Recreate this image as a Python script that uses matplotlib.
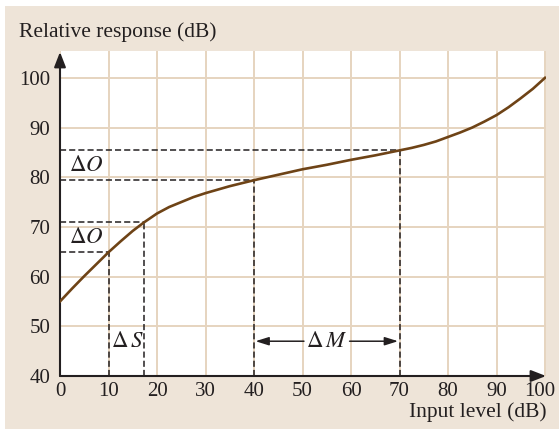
#!/usr/bin/env python3

import matplotlib.pyplot as plt
import matplotlib.transforms as mtransforms
from matplotlib.patches import Rectangle

# response curve: input level (dB) -> relative response (dB)
input_level = [0, 2.5, 5, 7.5, 10, 12.5, 15, 17.3, 20, 22.5, 25, 27.5, 30,
               35, 40, 45, 50, 55, 60, 65, 70, 72.5, 75, 77.5, 80, 82.5,
               85, 87.5, 90, 92.5, 95, 97.5, 100]
response = [55.0, 57.6, 60.1, 62.5, 64.9, 67.1, 69.2, 70.9, 72.7, 74.0,
            75.0, 76.0, 76.8, 78.2, 79.4, 80.5, 81.6, 82.5, 83.5, 84.4,
            85.4, 85.9, 86.5, 87.2, 88.1, 89.0, 90.0, 91.2, 92.5, 94.1,
            95.9, 97.8, 100.0]

# dashed guide points (input, output) on the curve
guide_in = [10, 17.3, 40, 70]
guide_out = [64.9, 70.9, 79.4, 85.4]

x_ticks = [0, 10, 20, 30, 40, 50, 60, 70, 80, 90, 100]
y_ticks = [40, 50, 60, 70, 80, 90, 100]

BEIGE = "#eee4d8"
GRID = "#e6d4bf"
CURVE = "#6e4316"
INK = "#231f20"


def main():
    plt.rcParams["font.family"] = ["Liberation Serif", "DejaVu Serif"]
    plt.rcParams["mathtext.fontset"] = "stix"

    dpi = 100
    fig = plt.figure(figsize=(559 / dpi, 430 / dpi), dpi=dpi)
    fig.patch.set_facecolor("white")
    fig.patches.append(Rectangle((5 / 559, 1 / 430), 554 / 559, 423 / 430,
                                 transform=fig.transFigure, facecolor=BEIGE,
                                 edgecolor="none", zorder=-10))

    ax = fig.add_axes([60 / 559, 54 / 430, 486 / 559, 325 / 430])
    ax.set_facecolor("white")
    ax.set_xlim(0, 100.2)
    ax.set_ylim(40, 105.4)

    for s in ax.spines.values():
        s.set_visible(False)

    ax.set_xticks(x_ticks)
    ax.set_yticks(y_ticks)
    ax.tick_params(length=0, labelsize=15, colors=INK)
    ax.tick_params(axis="x", pad=4)
    ax.tick_params(axis="y", pad=7)
    ax.grid(True, color=GRID, linewidth=1.4)
    ax.set_axisbelow(True)

    # nudge the last x label left so it stays inside the panel
    last = ax.get_xticklabels()[-1]
    last.set_transform(last.get_transform() + mtransforms.ScaledTranslation(
        -4 / 72, 0, fig.dpi_scale_trans))

    # axes with arrow heads
    arrow = dict(arrowstyle="-|>,head_length=0.9,head_width=0.35",
                 color=INK, lw=1.5, shrinkA=0, shrinkB=0)
    ax.annotate("", xy=(0, 105.2), xytext=(0, 40), arrowprops=arrow,
                annotation_clip=False)
    ax.annotate("", xy=(100.2, 40), xytext=(0, 40), arrowprops=arrow,
                annotation_clip=False)

    # dashed construction lines
    for xi, yi in zip(guide_in, guide_out):
        ax.plot([0, xi], [yi, yi], ls=(0, (4, 2)), color=INK, lw=1.1,
                zorder=2)
        ax.plot([xi, xi], [40, yi], ls=(0, (4, 2)), color=INK, lw=1.1,
                zorder=2)

    ax.plot(input_level, response, color=CURVE, lw=1.9, zorder=3)

    ax.text(1.8, 82.4, r"$\Delta O$", fontsize=16.5, color=INK, va="center")
    ax.text(1.8, 67.9, r"$\Delta O$", fontsize=16.5, color=INK, va="center")
    ax.text(10.6, 47.0, r"$\Delta\,S$", fontsize=16.5, color=INK, va="center")
    ax.text(55, 47.0, r"$\Delta\,M$", fontsize=16.5, color=INK, va="center",
            ha="center")

    dm = dict(arrowstyle="-|>,head_length=0.8,head_width=0.25",
              color=INK, lw=1.1, shrinkA=0, shrinkB=0)
    ax.annotate("", xy=(40.3, 47.0), xytext=(50.3, 47.0), arrowprops=dm)
    ax.annotate("", xy=(69.7, 47.0), xytext=(59.7, 47.0), arrowprops=dm)

    fig.text(19 / 559, 1 - 32 / 430, "Relative response (dB)", fontsize=15.5,
             color=INK, va="center", ha="left")
    fig.text(547 / 559, 1 - 412 / 430, "Input level (dB)", fontsize=15.5,
             color=INK, va="center", ha="right")

    plt.savefig("out.png", dpi=dpi)


if __name__ == "__main__":
    main()
